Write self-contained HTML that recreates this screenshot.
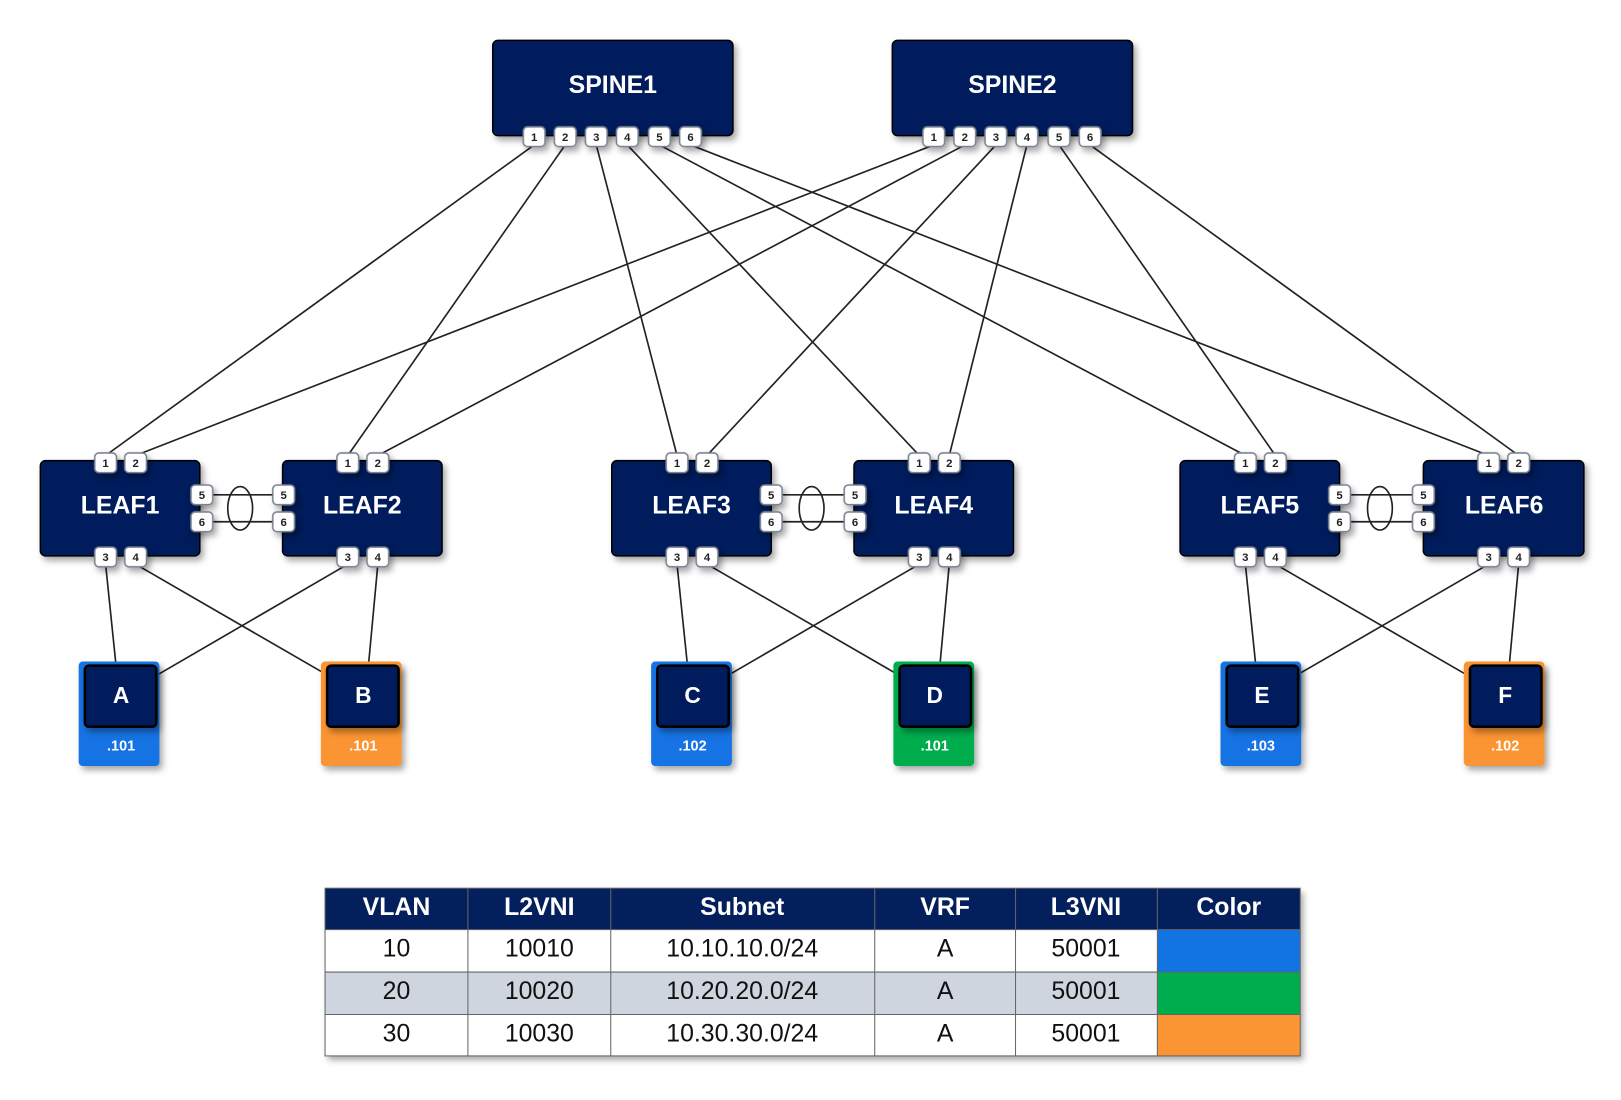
<!DOCTYPE html>
<html><head><style>
body{margin:0;background:#fff;width:1621px;height:1095px;overflow:hidden;font-family:"Liberation Sans",sans-serif}
</style></head><body>
<svg width="1621" height="1095" xmlns="http://www.w3.org/2000/svg" font-family="Liberation Sans, sans-serif">
<defs>
<filter id="sh" x="-20%" y="-20%" width="150%" height="160%"><feDropShadow dx="3" dy="4" stdDeviation="3" flood-color="#000" flood-opacity="0.35"/></filter>
<g id="pt"><rect x="-10.5" y="-9.5" width="21" height="19" rx="4" fill="#fff" stroke="#7a8190" stroke-width="1.5"/></g>
</defs>
<g transform="scale(1.0352)">
<g stroke="#222" stroke-width="1.6" fill="none">
<line x1="516" y1="140" x2="102" y2="440"/>
<line x1="546" y1="140" x2="336" y2="440"/>
<line x1="576" y1="140" x2="654" y2="440"/>
<line x1="606" y1="140" x2="888" y2="440"/>
<line x1="637" y1="140" x2="1203" y2="440"/>
<line x1="667" y1="140" x2="1438" y2="440"/>
<line x1="902" y1="140" x2="131" y2="440"/>
<line x1="932" y1="140" x2="365" y2="440"/>
<line x1="962" y1="140" x2="683" y2="440"/>
<line x1="992" y1="140" x2="917" y2="440"/>
<line x1="1023" y1="140" x2="1232" y2="440"/>
<line x1="1053" y1="140" x2="1467" y2="440"/>
<line x1="102" y1="545" x2="112" y2="642"/><line x1="131" y1="545" x2="316" y2="652"/>
<line x1="336" y1="545" x2="152" y2="652"/><line x1="365" y1="545" x2="356" y2="642"/>
<line x1="654" y1="545" x2="664" y2="642"/><line x1="683" y1="545" x2="868" y2="652"/>
<line x1="888" y1="545" x2="704" y2="652"/><line x1="917" y1="545" x2="908" y2="642"/>
<line x1="1203" y1="545" x2="1213" y2="642"/><line x1="1232" y1="545" x2="1417" y2="652"/>
<line x1="1438" y1="545" x2="1253" y2="652"/><line x1="1467" y1="545" x2="1458" y2="642"/>
<line x1="195" y1="478" x2="274" y2="478"/><line x1="195" y1="504" x2="274" y2="504"/>
<ellipse cx="232" cy="491" rx="12" ry="21"/>
<line x1="745" y1="478" x2="826" y2="478"/><line x1="745" y1="504" x2="826" y2="504"/>
<ellipse cx="784" cy="491" rx="12" ry="21"/>
<line x1="1294" y1="478" x2="1375" y2="478"/><line x1="1294" y1="504" x2="1375" y2="504"/>
<ellipse cx="1333" cy="491" rx="12" ry="21"/>
</g>
<g filter="url(#sh)">
<rect x="476" y="39" width="232" height="92" rx="5" fill="#031f5c" stroke="#000" stroke-width="1.5"/>
<rect x="862" y="39" width="232" height="92" rx="5" fill="#031f5c" stroke="#000" stroke-width="1.5"/>
</g>
<g fill="#fff" font-weight="bold" font-size="24" text-anchor="middle">
<text x="592" y="90">SPINE1</text><text x="978" y="90">SPINE2</text>
</g>
<g filter="url(#sh)" fill="#031f5c" stroke="#000" stroke-width="1.5">
<rect x="39" y="445" width="154" height="92" rx="5"/>
<rect x="273" y="445" width="154" height="92" rx="5"/>
<rect x="591" y="445" width="154" height="92" rx="5"/>
<rect x="825" y="445" width="154" height="92" rx="5"/>
<rect x="1140" y="445" width="154" height="92" rx="5"/>
<rect x="1375" y="445" width="155" height="92" rx="5"/>
</g>
<g fill="#fff" font-weight="bold" font-size="24" text-anchor="middle">
<text x="116" y="496">LEAF1</text><text x="350" y="496">LEAF2</text>
<text x="668" y="496">LEAF3</text><text x="902" y="496">LEAF4</text>
<text x="1217" y="496">LEAF5</text><text x="1453" y="496">LEAF6</text>
</g>
<g filter="url(#sh)">
<rect x="76" y="639" width="78" height="101" rx="4" fill="#1273e3"/>
<rect x="310" y="639" width="78" height="101" rx="4" fill="#fb9433"/>
<rect x="629" y="639" width="78" height="101" rx="4" fill="#1273e3"/>
<rect x="863" y="639" width="78" height="101" rx="4" fill="#00ad4e"/>
<rect x="1179" y="639" width="78" height="101" rx="4" fill="#1273e3"/>
<rect x="1414" y="639" width="78" height="101" rx="4" fill="#fb9433"/>
</g>
<g fill="#031f5c" stroke="#000" stroke-width="2.5" filter="url(#sh)">
<rect x="82" y="643" width="69" height="59" rx="4"/>
<rect x="316" y="643" width="69" height="59" rx="4"/>
<rect x="635" y="643" width="69" height="59" rx="4"/>
<rect x="869" y="643" width="69" height="59" rx="4"/>
<rect x="1185" y="643" width="69" height="59" rx="4"/>
<rect x="1420" y="643" width="69" height="59" rx="4"/>
</g>
<g fill="#fff" font-weight="bold" font-size="22" text-anchor="middle">
<text x="117" y="679">A</text><text x="351" y="679">B</text><text x="669" y="679">C</text>
<text x="903" y="679">D</text><text x="1219" y="679">E</text><text x="1454" y="679">F</text>
</g>
<g fill="#fff" font-weight="bold" font-size="14" text-anchor="middle">
<text x="117" y="725">.101</text><text x="351" y="725">.101</text><text x="669" y="725">.102</text>
<text x="903" y="725">.101</text><text x="1218" y="725">.103</text><text x="1454" y="725">.102</text>
</g>
<g font-size="11" font-weight="bold" text-anchor="middle" fill="#222">
<g filter="url(#sh)">
<use href="#pt" x="516" y="132"/><use href="#pt" x="546" y="132"/><use href="#pt" x="576" y="132"/><use href="#pt" x="606" y="132"/><use href="#pt" x="637" y="132"/><use href="#pt" x="667" y="132"/>
<use href="#pt" x="902" y="132"/><use href="#pt" x="932" y="132"/><use href="#pt" x="962" y="132"/><use href="#pt" x="992" y="132"/><use href="#pt" x="1023" y="132"/><use href="#pt" x="1053" y="132"/>
<use href="#pt" x="102" y="447"/><use href="#pt" x="131" y="447"/><use href="#pt" x="102" y="538"/><use href="#pt" x="131" y="538"/>
<use href="#pt" x="336" y="447"/><use href="#pt" x="365" y="447"/><use href="#pt" x="336" y="538"/><use href="#pt" x="365" y="538"/>
<use href="#pt" x="654" y="447"/><use href="#pt" x="683" y="447"/><use href="#pt" x="654" y="538"/><use href="#pt" x="683" y="538"/>
<use href="#pt" x="888" y="447"/><use href="#pt" x="917" y="447"/><use href="#pt" x="888" y="538"/><use href="#pt" x="917" y="538"/>
<use href="#pt" x="1203" y="447"/><use href="#pt" x="1232" y="447"/><use href="#pt" x="1203" y="538"/><use href="#pt" x="1232" y="538"/>
<use href="#pt" x="1438" y="447"/><use href="#pt" x="1467" y="447"/><use href="#pt" x="1438" y="538"/><use href="#pt" x="1467" y="538"/>
<use href="#pt" x="195" y="478"/><use href="#pt" x="195" y="504"/><use href="#pt" x="274" y="478"/><use href="#pt" x="274" y="504"/>
<use href="#pt" x="745" y="478"/><use href="#pt" x="745" y="504"/><use href="#pt" x="826" y="478"/><use href="#pt" x="826" y="504"/>
<use href="#pt" x="1294" y="478"/><use href="#pt" x="1294" y="504"/><use href="#pt" x="1375" y="478"/><use href="#pt" x="1375" y="504"/>
</g>
<text x="516" y="136">1</text><text x="546" y="136">2</text><text x="576" y="136">3</text><text x="606" y="136">4</text><text x="637" y="136">5</text><text x="667" y="136">6</text>
<text x="902" y="136">1</text><text x="932" y="136">2</text><text x="962" y="136">3</text><text x="992" y="136">4</text><text x="1023" y="136">5</text><text x="1053" y="136">6</text>
<text x="102" y="451">1</text><text x="131" y="451">2</text><text x="102" y="542">3</text><text x="131" y="542">4</text>
<text x="336" y="451">1</text><text x="365" y="451">2</text><text x="336" y="542">3</text><text x="365" y="542">4</text>
<text x="654" y="451">1</text><text x="683" y="451">2</text><text x="654" y="542">3</text><text x="683" y="542">4</text>
<text x="888" y="451">1</text><text x="917" y="451">2</text><text x="888" y="542">3</text><text x="917" y="542">4</text>
<text x="1203" y="451">1</text><text x="1232" y="451">2</text><text x="1203" y="542">3</text><text x="1232" y="542">4</text>
<text x="1438" y="451">1</text><text x="1467" y="451">2</text><text x="1438" y="542">3</text><text x="1467" y="542">4</text>
<text x="195" y="482">5</text><text x="195" y="508">6</text><text x="274" y="482">5</text><text x="274" y="508">6</text>
<text x="745" y="482">5</text><text x="745" y="508">6</text><text x="826" y="482">5</text><text x="826" y="508">6</text>
<text x="1294" y="482">5</text><text x="1294" y="508">6</text><text x="1375" y="482">5</text><text x="1375" y="508">6</text>
</g>
<g filter="url(#sh)"><rect x="314" y="858" width="942" height="162" fill="#fff"/></g>
<rect x="314" y="858" width="942" height="40" fill="#031f5c"/>
<rect x="314" y="939" width="804" height="41" fill="#cfd5de"/>
<rect x="1118" y="898" width="138" height="41" fill="#1273e3"/>
<rect x="1118" y="939" width="138" height="41" fill="#00ad4e"/>
<rect x="1118" y="980" width="138" height="40" fill="#fb9433"/>
<g stroke="#666" stroke-width="1" fill="none">
<rect x="314" y="858" width="942" height="162"/>
<line x1="314" y1="898" x2="1256" y2="898"/><line x1="314" y1="939" x2="1256" y2="939"/><line x1="314" y1="980" x2="1256" y2="980"/>
<line x1="452" y1="858" x2="452" y2="1020"/><line x1="590" y1="858" x2="590" y2="1020"/><line x1="845" y1="858" x2="845" y2="1020"/>
<line x1="981" y1="858" x2="981" y2="1020"/><line x1="1118" y1="858" x2="1118" y2="1020"/>
</g>
<g font-size="24" text-anchor="middle">
<g fill="#fff" font-weight="bold"><text x="383" y="884">VLAN</text><text x="521" y="884">L2VNI</text><text x="717" y="884">Subnet</text><text x="913" y="884">VRF</text><text x="1049" y="884">L3VNI</text><text x="1187" y="884">Color</text></g>
<g fill="#111"><text x="383" y="924">10</text><text x="521" y="924">10010</text><text x="717" y="924">10.10.10.0/24</text><text x="913" y="924">A</text><text x="1049" y="924">50001</text>
<text x="383" y="965">20</text><text x="521" y="965">10020</text><text x="717" y="965">10.20.20.0/24</text><text x="913" y="965">A</text><text x="1049" y="965">50001</text>
<text x="383" y="1006">30</text><text x="521" y="1006">10030</text><text x="717" y="1006">10.30.30.0/24</text><text x="913" y="1006">A</text><text x="1049" y="1006">50001</text></g>
</g>
</g>
</svg>
</body></html>
